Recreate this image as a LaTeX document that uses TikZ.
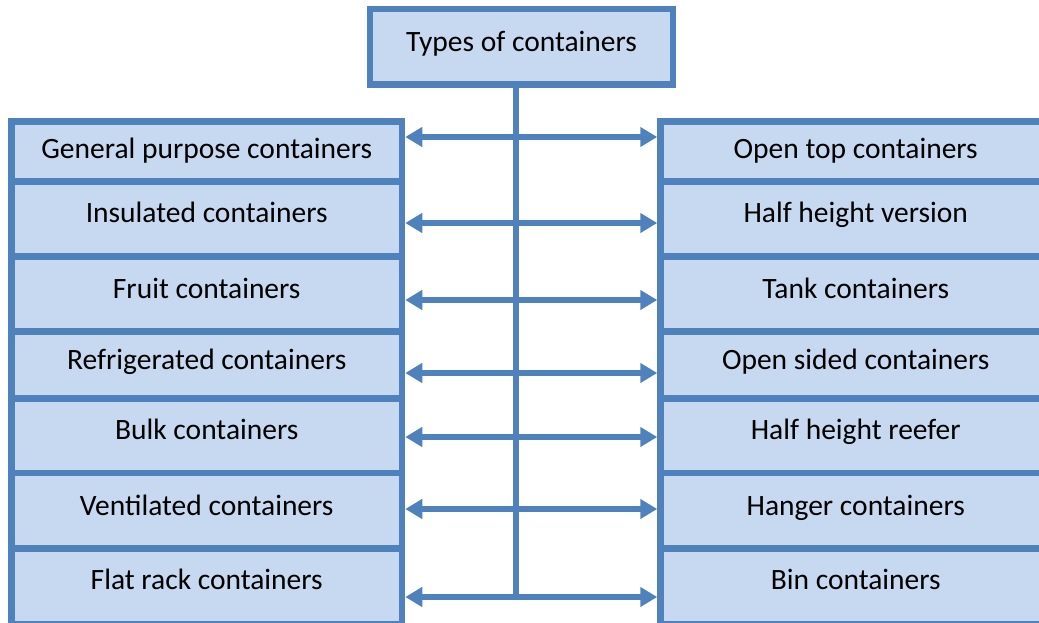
\documentclass[tikz,border=0pt]{standalone}
\usepackage{fontspec}
\setmainfont{Carlito}
\usetikzlibrary{arrows.meta}
\definecolor{boxline}{HTML}{4F81BD}
\definecolor{boxfill}{HTML}{C6D9F1}
\begin{document}
\begin{tikzpicture}[x=1pt, y=-1pt,
    box/.style={draw=boxline, fill=boxfill, line width=6.5pt, minimum width=390.5pt,
        inner sep=0pt, font=\fontsize{29.5}{34}\selectfont, text height=1.05em, text depth=0.15em},
    conn/.style={draw=boxline, line width=6pt,
        {Triangle[length=17pt,width=19pt]}-{Triangle[length=17pt,width=19pt]}}]
    \useasboundingbox (0,0) rectangle (1039,622);

    % Glowny prostokat
    \node[box, minimum width=303pt, minimum height=75.5pt] (top) at (521.5,46.75) {Types of containers};

    % Wiersze: gora / dol / wysokosc strzalki / polozenie tekstu / tekst lewy / tekst prawy
    \foreach \i/\ya/\yb/\ys/\th/\lt/\rt in {
        1/121.5/181.5/137/1.6/General purpose containers/Open top containers,
        2/181.5/256.5/223/0.85/Insulated containers/Half height version,
        3/256.5/331.5/300/1.0/Fruit containers/Tank containers,
        4/331.5/398.5/373/1.05/Refrigerated containers/Open sided containers,
        5/398.5/473/437/0.95/Bulk containers/Half height reefer,
        6/473/548.5/509/1.0/Ventilated containers/Hanger containers,
        7/548.5/624/597/0.8/Flat rack containers/Bin containers} {
        \pgfmathsetmacro{\yc}{(\ya+\yb)/2}
        \pgfmathsetmacro{\h}{\yb-\ya}
        \node[box, minimum height=\h pt, text height=\th em] (l\i) at (206.75,\yc) {\lt};
        \node[box, minimum height=\h pt, text height=\th em] (r\i) at (855.75,\yc) {\rt};
        \coordinate (s\i) at (516,\ys);
    }

    % Pionowa linia
    \draw[boxline, line width=6pt] (top.south -| s1) -- (s7);

    % Strzalki w obie strony
    \foreach \i in {1,...,7}
        \draw[conn] (l\i.east |- s\i) -- (r\i.west |- s\i);
\end{tikzpicture}
\end{document}
